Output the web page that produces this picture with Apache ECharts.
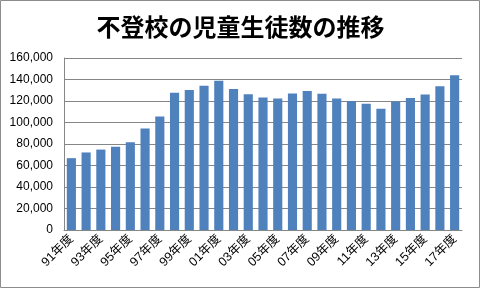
<!DOCTYPE html>
<html><head><meta charset="utf-8">
<script src="https://cdn.jsdelivr.net/npm/echarts@6/dist/echarts.min.js"></script>
<style>html,body{margin:0;padding:0;background:#fff}#c{width:481px;height:289px}</style>
</head><body><div id="c"></div>
<script>
const categories = ['91年度','92年度','93年度','94年度','95年度','96年度','97年度','98年度','99年度','00年度','01年度','02年度','03年度','04年度','05年度','06年度','07年度','08年度','09年度','10年度','11年度','12年度','13年度','14年度','15年度','16年度','17年度'];
const counts = [66817,72131,74808,77449,81591,94351,105466,127692,130228,134286,138722,131252,126226,123358,122287,126894,129255,126805,122432,119891,117458,112689,119617,122897,125991,133683,144031];
const titleText = '不登校の児童生徒数の推移';

const chart = echarts.init(document.getElementById('c'), null, {renderer:'canvas'});
chart.setOption({
  animation: false,
  backgroundColor: '#fff',
  title: {
    text: titleText, left: 'center', top: 10,
    textStyle: {fontFamily: 'Noto Sans CJK JP', fontSize: 24, fontWeight: 'bold', color: '#000'}
  },
  graphic: [{type:'rect', shape:{x:0.5,y:0.5,width:479,height:287}, style:{fill:'none', stroke:'#8c8c8c', lineWidth:1}, silent:true}],
  grid: {left: 64, right: 19, top: 58, bottom: 59, containLabel: false},
  xAxis: {
    type: 'category', data: categories,
    axisLine: {lineStyle: {color: '#868686'}},
    axisTick: {show: false},
    axisLabel: {interval: 1, rotate: 45, margin: 7, fontSize: 12.5, color: '#000', fontFamily: 'Liberation Sans, Noto Sans CJK JP'}
  },
  yAxis: {
    type: 'value', min: 0, max: 160000, interval: 20000,
    axisLine: {show: true, lineStyle: {color: '#868686'}},
    axisTick: {show: false},
    splitLine: {lineStyle: {color: '#868686'}},
    axisLabel: {margin: 11, fontSize: 12, color: '#000', fontFamily: 'Liberation Sans',
      formatter: v => v.toLocaleString('en-US')}
  },
  series: [{type: 'bar', data: counts, barCategoryGap: '38%', itemStyle: {color: '#4F81BD'}}]
});
</script></body></html>
